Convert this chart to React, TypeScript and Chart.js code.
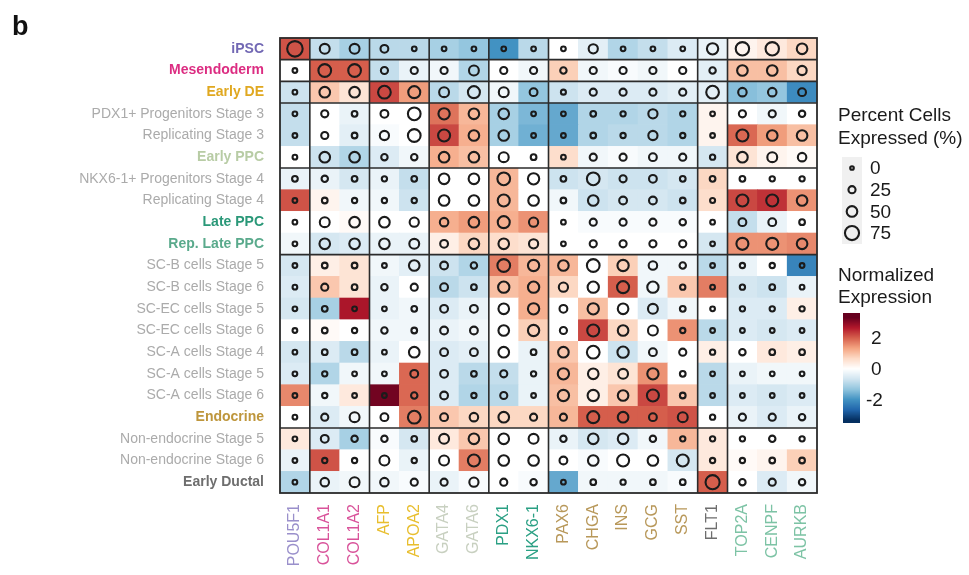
import React, { useEffect, useRef } from "react";
import { Chart, registerables } from "chart.js";

Chart.register(...registerables);

const FONT = "'Liberation Sans', Arial, Helvetica, sans-serif";

const genes = ["POU5F1", "COL1A1", "COL1A2", "AFP", "APOA2", "GATA4", "GATA6", "PDX1", "NKX6-1", "PAX6", "CHGA", "INS", "GCG", "SST", "FLT1", "TOP2A", "CENPF", "AURKB"];
const geneColors = ["#9A90CB", "#D9539A", "#D9539A", "#E8BE2E", "#E8BE2E", "#C8D0C0", "#C8D0C0", "#2BA084", "#2BA084", "#B8985A", "#B8985A", "#B8985A", "#B8985A", "#B8985A", "#6E6E6E", "#7DC3A5", "#7DC3A5", "#7DC3A5"];

const cellTypes = [
  "iPSC", "Mesendoderm", "Early DE", "PDX1+ Progenitors Stage 3", "Replicating Stage 3", "Early PPC",
  "NKX6-1+ Progenitors Stage 4", "Replicating Stage 4", "Late PPC", "Rep. Late PPC",
  "SC-B cells Stage 5", "SC-B cells Stage 6", "SC-EC cells Stage 5", "SC-EC cells Stage 6",
  "SC-A cells Stage 4", "SC-A cells Stage 5", "SC-A cells Stage 6", "Endocrine",
  "Non-endocrine Stage 5", "Non-endocrine Stage 6", "Early Ductal",
];
const GRAY = "#ABABAB";
const cellTypeColors = ["#7268B4", "#DC2D82", "#E0A820", GRAY, GRAY, "#B8CCA5", GRAY, GRAY, "#2A9878", "#5AAA8C", GRAY, GRAY, GRAY, GRAY, GRAY, GRAY, GRAY, "#BE963C", GRAY, GRAY, "#6E6E6E"];
const cellTypeBold = [true, true, true, false, false, true, false, false, true, true, false, false, false, false, false, false, false, true, false, false, true];

// group separators: boundary after these indices
const geneBreaks = [1, 3, 5, 7, 9, 14, 15];
const cellTypeBreaks = [1, 2, 3, 6, 10, 18];

// Normalized expression (rows = cellTypes, cols = genes)
const expression = [
  [2.1, -0.8, -1.1, -0.9, -0.9, -1.1, -1.3, -2.0, -0.9, 0.0, -0.4, -1.0, -0.8, -0.5, -0.3, 0.2, 0.4, 0.7],
  [0.0, 2.0, 2.0, -0.8, -0.3, -0.2, -1.0, 0.0, -0.2, 0.8, -0.2, -0.1, -0.2, 0.0, -0.4, 1.0, 1.0, 0.7],
  [-0.7, 0.9, 0.5, 2.2, 1.4, -0.9, -0.6, -0.2, -1.3, -0.7, -0.5, -0.5, -0.5, -0.4, -0.4, -1.4, -1.3, -2.1],
  [-0.8, 0.0, -0.3, 0.0, 0.0, 1.8, 1.1, -1.1, -1.5, -1.7, -1.0, -1.0, -0.9, -1.0, 0.2, 0.0, -0.2, 0.0],
  [-0.8, 0.0, -0.4, -0.1, 0.0, 2.2, 1.2, -1.1, -1.6, -1.7, -1.0, -0.9, -0.9, -1.0, 0.2, 1.9, 1.4, 1.0],
  [0.0, -0.7, -1.0, -0.5, -0.2, 1.2, 1.0, 0.0, 0.0, 0.6, -0.2, -0.1, -0.2, -0.2, -0.6, 0.5, 0.2, 0.1],
  [-0.3, -0.3, -0.6, -0.3, -0.8, 0.0, 0.0, 1.1, 0.0, -0.7, -0.6, -0.7, -0.7, -0.6, 0.7, 0.0, 0.0, 0.0],
  [2.1, 0.2, -0.2, -0.2, -0.7, 0.0, 0.0, 1.1, 0.0, -0.2, -0.7, -0.6, -0.6, -0.7, 0.6, 2.2, 2.4, 1.5],
  [0.0, 0.0, 0.1, 0.0, 0.0, 1.2, 1.4, 1.2, 1.5, 0.0, -0.1, -0.1, -0.1, -0.1, 0.0, -0.8, -0.3, 0.0],
  [-0.2, -0.6, -0.5, -0.3, -0.3, 0.3, 0.7, 0.6, 0.5, 0.0, 0.0, 0.0, 0.0, 0.0, -0.6, 1.5, 1.5, 1.6],
  [-0.6, 0.3, 0.5, -0.2, -0.4, -0.7, -1.0, 1.7, 1.1, 1.1, 0.0, 0.8, -0.2, -0.2, -0.9, -0.3, 0.0, -2.2],
  [-0.5, 0.9, 0.5, -0.3, 0.0, -0.9, -0.7, 1.0, 1.2, 0.7, 0.0, 2.0, -0.2, 0.9, 1.7, -0.6, -0.7, -0.3],
  [-0.6, -1.1, 2.7, -0.3, -0.2, -0.5, -0.3, 0.0, 1.2, 0.0, 1.0, 0.0, -0.5, -0.2, 0.0, -0.5, -0.5, 0.3],
  [0.0, 0.1, 0.0, -0.2, -0.2, -0.3, -0.2, 0.0, 0.8, 0.0, 2.2, 0.7, 0.0, 1.5, -0.9, -0.5, -0.6, -0.5],
  [-0.6, -0.5, -0.9, -0.3, 0.0, -0.5, -0.4, 0.0, -0.3, 0.9, 0.0, -0.7, -0.2, 0.0, 0.3, 0.0, 0.4, 0.3],
  [-0.5, -1.0, -0.2, -0.2, 1.9, -0.5, -0.9, -0.8, -0.3, 1.1, 0.3, 0.5, 1.5, 0.0, -0.9, -0.3, -0.2, -0.2],
  [1.6, -0.2, 0.4, 3.2, 1.9, -0.5, -1.0, -0.9, -0.3, 1.0, 0.3, 0.9, 2.2, 0.9, -0.9, -0.5, -0.6, -0.5],
  [0.0, -0.5, -0.2, 0.0, 1.7, 0.9, 0.7, 0.7, 0.7, 1.1, 2.0, 2.0, 2.0, 2.1, 0.0, -0.3, -0.5, -0.3],
  [0.4, -0.5, -1.1, -0.1, -0.6, 0.4, 0.9, 0.0, 0.0, -0.3, -0.6, -0.5, -0.2, 1.1, 0.4, 0.0, 0.0, 0.0],
  [-0.3, 2.1, 0.0, 0.0, -0.3, 0.0, 1.7, 0.0, 0.0, 0.0, -0.1, 0.0, 0.0, -0.6, 0.4, 0.1, 0.2, 0.8],
  [-1.0, -0.3, -0.2, -0.2, -0.1, -0.3, -0.1, 0.0, -0.1, -1.7, -0.2, -0.2, -0.2, -0.1, 2.0, 0.0, -0.5, -0.2],
];

// Percent cells expressed (rows = cellTypes, cols = genes)
const percentExpressed = [
  [85, 45, 45, 30, 8, 8, 8, 8, 8, 8, 40, 8, 8, 8, 55, 70, 70, 50],
  [8, 65, 65, 25, 25, 25, 45, 25, 25, 20, 25, 25, 25, 25, 20, 50, 50, 40],
  [8, 50, 50, 65, 60, 45, 60, 45, 30, 10, 25, 25, 25, 25, 65, 35, 35, 30],
  [8, 25, 15, 30, 65, 55, 50, 50, 8, 8, 15, 12, 40, 12, 8, 25, 25, 20],
  [8, 25, 15, 40, 65, 60, 50, 50, 8, 8, 15, 12, 40, 12, 8, 60, 50, 50],
  [8, 50, 50, 20, 20, 50, 50, 45, 15, 8, 25, 25, 30, 25, 12, 50, 45, 35],
  [15, 20, 15, 12, 15, 50, 50, 65, 55, 15, 65, 25, 30, 15, 15, 15, 12, 12],
  [8, 15, 12, 12, 12, 50, 50, 60, 50, 15, 50, 30, 30, 15, 10, 60, 60, 50],
  [8, 45, 50, 50, 40, 35, 50, 60, 40, 8, 25, 25, 25, 20, 8, 30, 30, 15],
  [8, 50, 50, 50, 45, 30, 50, 50, 40, 8, 25, 25, 25, 25, 8, 60, 60, 50],
  [8, 15, 15, 8, 50, 30, 20, 65, 55, 50, 65, 55, 35, 20, 8, 12, 12, 8],
  [8, 25, 15, 20, 25, 30, 15, 55, 55, 40, 55, 60, 55, 12, 8, 12, 15, 8],
  [8, 15, 8, 8, 15, 30, 30, 50, 55, 30, 55, 50, 45, 15, 8, 12, 12, 12],
  [8, 15, 12, 20, 15, 30, 30, 50, 55, 25, 60, 50, 45, 12, 8, 8, 8, 8],
  [8, 15, 15, 8, 50, 30, 30, 50, 15, 50, 65, 55, 30, 25, 12, 20, 15, 15],
  [8, 12, 8, 8, 30, 30, 15, 25, 12, 55, 50, 45, 55, 15, 8, 8, 8, 8],
  [8, 12, 8, 8, 20, 30, 12, 25, 8, 55, 55, 50, 60, 15, 8, 8, 8, 8],
  [8, 25, 45, 30, 65, 30, 35, 50, 25, 25, 60, 50, 30, 45, 12, 25, 25, 20],
  [8, 30, 20, 20, 15, 45, 50, 50, 45, 20, 50, 50, 20, 12, 12, 12, 20, 12],
  [8, 12, 12, 45, 12, 45, 60, 50, 50, 30, 50, 60, 50, 60, 12, 12, 15, 15],
  [8, 35, 45, 35, 25, 25, 40, 25, 20, 8, 15, 12, 15, 15, 75, 20, 25, 20],
];

const sizeLegendValues = [0, 25, 50, 75];
const colorLegendTicks = [2, 0, -2];
const colorLegendRange = [-3.5, 3.6];

const RDBU = ["#053061", "#2166AC", "#4393C3", "#92C5DE", "#D1E5F0", "#FFFFFF", "#FDDBC7", "#F4A582", "#D6604D", "#B2182B", "#67001F"];

function hexToRgb(h: string) {
  const n = parseInt(h.slice(1), 16);
  return [(n >> 16) & 255, (n >> 8) & 255, n & 255];
}

function exprColor(v: number) {
  const t = Math.max(-1, Math.min(1, v / 3.3));
  const pos = ((t + 1) / 2) * 10;
  const i = Math.min(9, Math.floor(pos));
  const f = pos - i;
  const a = hexToRgb(RDBU[i]);
  const b = hexToRgb(RDBU[i + 1]);
  const c = a.map((x, k) => Math.round(x + (b[k] - x) * f));
  return `rgb(${c[0]},${c[1]},${c[2]})`;
}

function pctRadius(p: number) {
  return 1.8 + 0.07 * p;
}

const heatmapPlugin = {
  id: "heatmapCells",
  beforeDatasetsDraw(chart: any) {
    const { ctx, chartArea } = chart;
    const xs = chart.scales.x;
    const ys = chart.scales.y;
    const bw = chartArea.width / genes.length;
    const bh = chartArea.height / cellTypes.length;
    ctx.save();
    for (let r = 0; r < cellTypes.length; r++) {
      for (let c = 0; c < genes.length; c++) {
        const cx = xs.getPixelForValue(c);
        const cy = ys.getPixelForValue(r);
        ctx.fillStyle = exprColor(expression[r][c]);
        ctx.fillRect(cx - bw / 2 - 0.3, cy - bh / 2 - 0.3, bw + 0.6, bh + 0.6);
      }
    }
    ctx.strokeStyle = "#2b2b2b";
    ctx.lineWidth = 1.6;
    ctx.beginPath();
    for (const g of geneBreaks) {
      const x = xs.getPixelForValue(g - 0.5);
      ctx.moveTo(x, chartArea.top);
      ctx.lineTo(x, chartArea.bottom);
    }
    for (const b of cellTypeBreaks) {
      const y = ys.getPixelForValue(b - 0.5);
      ctx.moveTo(chartArea.left, y);
      ctx.lineTo(chartArea.right, y);
    }
    ctx.stroke();
    ctx.lineWidth = 1.8;
    ctx.strokeRect(chartArea.left, chartArea.top, chartArea.width, chartArea.height);
    ctx.restore();
  },
};

const legendPlugin = {
  id: "customLegend",
  afterDraw(chart: any) {
    const { ctx } = chart;
    ctx.save();
    // panel tag
    ctx.fillStyle = "#111";
    ctx.font = `bold 27px ${FONT}`;
    ctx.textBaseline = "alphabetic";
    ctx.textAlign = "left";
    ctx.fillText("b", 12, 35);

    ctx.font = `19px ${FONT}`;
    ctx.fillStyle = "#1a1a1a";
    ctx.textBaseline = "middle";
    ctx.fillText("Percent Cells", 838, 116);
    ctx.fillText("Expressed (%)", 838, 139);

    ctx.fillStyle = "#F0F0F0";
    ctx.fillRect(842, 157, 20, 87);
    sizeLegendValues.forEach((v, i) => {
      const y = 168 + i * 21.7;
      ctx.beginPath();
      ctx.arc(852, y, pctRadius(v), 0, Math.PI * 2);
      ctx.strokeStyle = "#1b1b1b";
      ctx.lineWidth = 2.1;
      ctx.stroke();
      ctx.fillStyle = "#1a1a1a";
      ctx.fillText(String(v), 870, y + 1);
    });

    ctx.fillText("Normalized", 838, 276);
    ctx.fillText("Expression", 838, 298);

    const top = 313;
    const bottom = 423;
    const [lo, hi] = colorLegendRange;
    for (let y = top; y < bottom; y++) {
      const v = hi - ((y - top + 0.5) / (bottom - top)) * (hi - lo);
      ctx.fillStyle = exprColor(v);
      ctx.fillRect(843, y, 17, 1);
    }
    ctx.fillStyle = "#1a1a1a";
    colorLegendTicks.forEach((v) => {
      const y = top + ((hi - v) / (hi - lo)) * (bottom - top);
      ctx.fillText(String(v), v < 0 ? 866 : 871, y + 1);
    });
    ctx.restore();
  },
};

export default function App() {
  const canvasRef = useRef<HTMLCanvasElement | null>(null);

  useEffect(() => {
    if (!canvasRef.current) return;
    const points: { x: string; y: string }[] = [];
    const radii: number[] = [];
    for (let r = 0; r < cellTypes.length; r++) {
      for (let c = 0; c < genes.length; c++) {
        points.push({ x: genes[c], y: cellTypes[r] });
        radii.push(pctRadius(percentExpressed[r][c]));
      }
    }
    const chart = new Chart(canvasRef.current, {
      type: "scatter",
      data: {
        datasets: [
          {
            data: points as any,
            pointRadius: radii,
            pointHoverRadius: radii,
            pointBorderWidth: 2.1,
            pointHoverBorderWidth: 2.1,
            pointBorderColor: "#1b1b1b",
            pointBackgroundColor: "rgba(0,0,0,0)",
          },
        ],
      },
      options: {
        responsive: false,
        animation: false,
        events: [],
        layout: { padding: { top: 38, right: 152, bottom: 0, left: 0 } },
        plugins: { legend: { display: false }, tooltip: { enabled: false } },
        scales: {
          x: {
            type: "category",
            labels: genes,
            offset: true,
            position: "bottom",
            grid: { display: false, drawTicks: false },
            border: { display: false },
            ticks: {
              autoSkip: false,
              maxRotation: 90,
              minRotation: 90,
              padding: 11,
              color: (c: any) => geneColors[c.index],
              font: { family: FONT, size: 16 },
            },
            afterFit: (s: any) => {
              s.height = 82;
            },
          } as any,
          y: {
            type: "category",
            labels: cellTypes,
            offset: true,
            position: "left",
            grid: { display: false, drawTicks: false },
            border: { display: false },
            ticks: {
              autoSkip: false,
              padding: 16,
              color: (c: any) => cellTypeColors[c.index],
              font: (c: any) => ({ family: FONT, size: 14, weight: cellTypeBold[c.index] ? "bold" : "normal" }),
            },
            afterFit: (s: any) => {
              s.width = 280;
            },
          } as any,
        },
      },
      plugins: [heatmapPlugin, legendPlugin],
    });
    return () => chart.destroy();
  }, []);

  return (
    <div style={{ position: "absolute", left: 0, top: 0, width: 969, height: 575, background: "#fff" }}>
      <canvas ref={canvasRef} width={969} height={575} style={{ display: "block" }} />
    </div>
  );
}
